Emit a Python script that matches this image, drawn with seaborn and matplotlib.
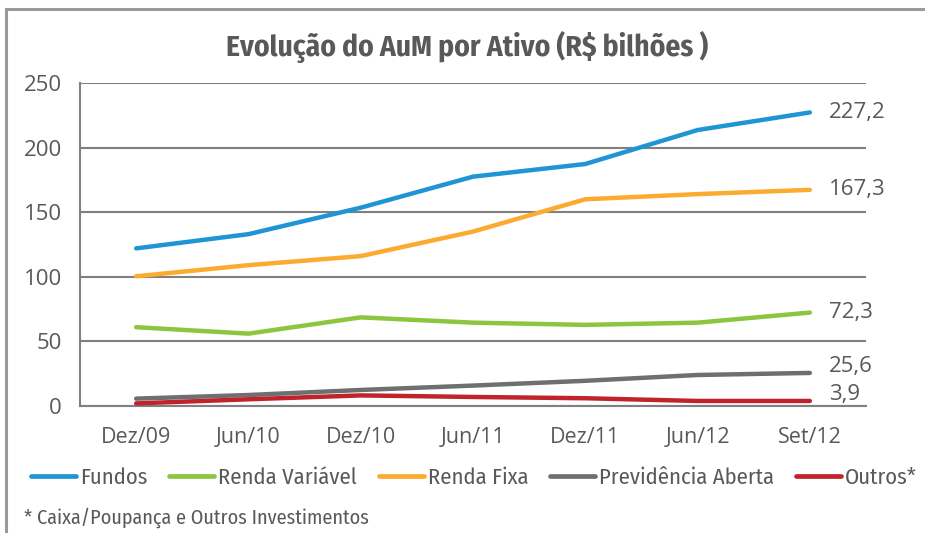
import matplotlib
matplotlib.use("Agg")
import matplotlib.pyplot as plt
import seaborn as sns
import pandas as pd
from matplotlib.patches import Rectangle
from matplotlib.lines import Line2D

categories = ["Dez/09", "Jun/10", "Dez/10", "Jun/11", "Dez/11", "Jun/12", "Set/12"]
fundos = [122, 133, 153.5, 177.5, 187.3, 213.6, 227.2]
renda_variavel = [61, 56, 68.6, 64.5, 62.8, 64.5, 72.3]
renda_fixa = [100.4, 109, 116, 135, 160, 164, 167.3]
previdencia = [5.7, 8.5, 12.4, 15.8, 19.5, 24, 25.6]
outros = [2, 5.2, 8.2, 7.0, 6.0, 3.9, 3.9]

series_names = ["Fundos", "Renda Variável", "Renda Fixa", "Previdência Aberta", "Outros*"]
series_values = [fundos, renda_variavel, renda_fixa, previdencia, outros]
end_labels = ["227,2", "72,3", "167,3", "25,6", "3,9"]
colors = ["#1f95d5", "#8cc63f", "#fbab2f", "#6d6f71", "#c1232b"]

rows = []
for name, vals in zip(series_names, series_values):
    for i, v in enumerate(vals):
        rows.append({"pos": i, "cat": categories[i], "valor": v, "serie": name})
df = pd.DataFrame(rows)

sns.set_theme(style="white")
TEXT = "#58595b"
plt.rcParams["font.family"] = ["Open Sans", "DejaVu Sans"]
COND = ["Fira Sans Condensed", "PT Sans Narrow", "Roboto Condensed",
        "Barlow Semi Condensed", "Archivo Narrow", "DejaVu Sans"]

fig = plt.figure(figsize=(9.25, 5.33), dpi=100)
ax = fig.add_axes([80 / 925, 1 - 406 / 533, (866 - 80) / 925, (406 - 83) / 533])

# outer frame (top and left visible)
fig.patches.append(Rectangle((6 / 925, -0.1), 1.2, 1 - 9 / 533 + 0.1,
                             transform=fig.transFigure, fill=False,
                             edgecolor="#9a9a9a", linewidth=2.2, zorder=0))

sns.lineplot(data=df, x="pos", y="valor", hue="serie", hue_order=series_names,
             palette=dict(zip(series_names, colors)), linewidth=3.2, ax=ax,
             legend=False, zorder=3)
for ln in ax.get_lines():
    ln.set_solid_capstyle("round")

ax.set_xlim(-0.5, len(categories) - 0.5)
ax.set_ylim(0, 250)
ax.set_yticks([0, 50, 100, 150, 200, 250])
ax.set_xticks(range(len(categories)))
ax.set_xticklabels(categories)
ax.set_xticks([i - 0.5 for i in range(len(categories) + 1)], minor=True)
ax.tick_params(axis="x", which="major", length=0, pad=15, labelsize=15.5, labelcolor=TEXT)
ax.tick_params(axis="x", which="minor", length=6, width=1.5, color="#808080", direction="out")
ax.tick_params(axis="y", length=7, width=1.5, color="#808080", pad=6, labelsize=16,
               labelcolor=TEXT, direction="out")
ax.set_xlabel("")
ax.set_ylabel("")
ax.grid(axis="y", color="#808080", linewidth=1.5)
ax.set_axisbelow(True)
for s in ["top", "right"]:
    ax.spines[s].set_visible(False)
for s in ["left", "bottom"]:
    ax.spines[s].set_color("#808080")
    ax.spines[s].set_linewidth(1.5)

# end labels
offsets = [0, 0, 0, 4.5, 5]
last = len(categories) - 1
for vals, lab, off in zip(series_values, end_labels, offsets):
    ax.annotate(lab, xy=(last, vals[-1]), xytext=(14, off), textcoords="offset points",
                va="center", ha="left", fontsize=16, color=TEXT, annotation_clip=False)

fig.text(0.505, 1 - 47 / 533, "Evolução do AuM por Ativo (R$ bilhões )",
         ha="center", va="center", fontsize=21.2, fontweight="bold", color=TEXT,
         family=COND)

handles = [Line2D([0], [0], color=c, linewidth=3.4) for c in colors]
leg = fig.legend(handles, series_names, loc="center", bbox_to_anchor=(474 / 925, 1 - 478 / 533),
                 ncol=5, frameon=False, handlelength=2.0, handletextpad=0.18,
                 columnspacing=0.95, prop={"family": COND, "size": 16.3})
for t in leg.get_texts():
    t.set_color(TEXT)

fig.text(24 / 925, 1 - 518 / 533, "* Caixa/Poupança e Outros Investimentos",
         ha="left", va="center", fontsize=14.5, color=TEXT, family=COND)

fig.savefig("out.png", dpi=100)
